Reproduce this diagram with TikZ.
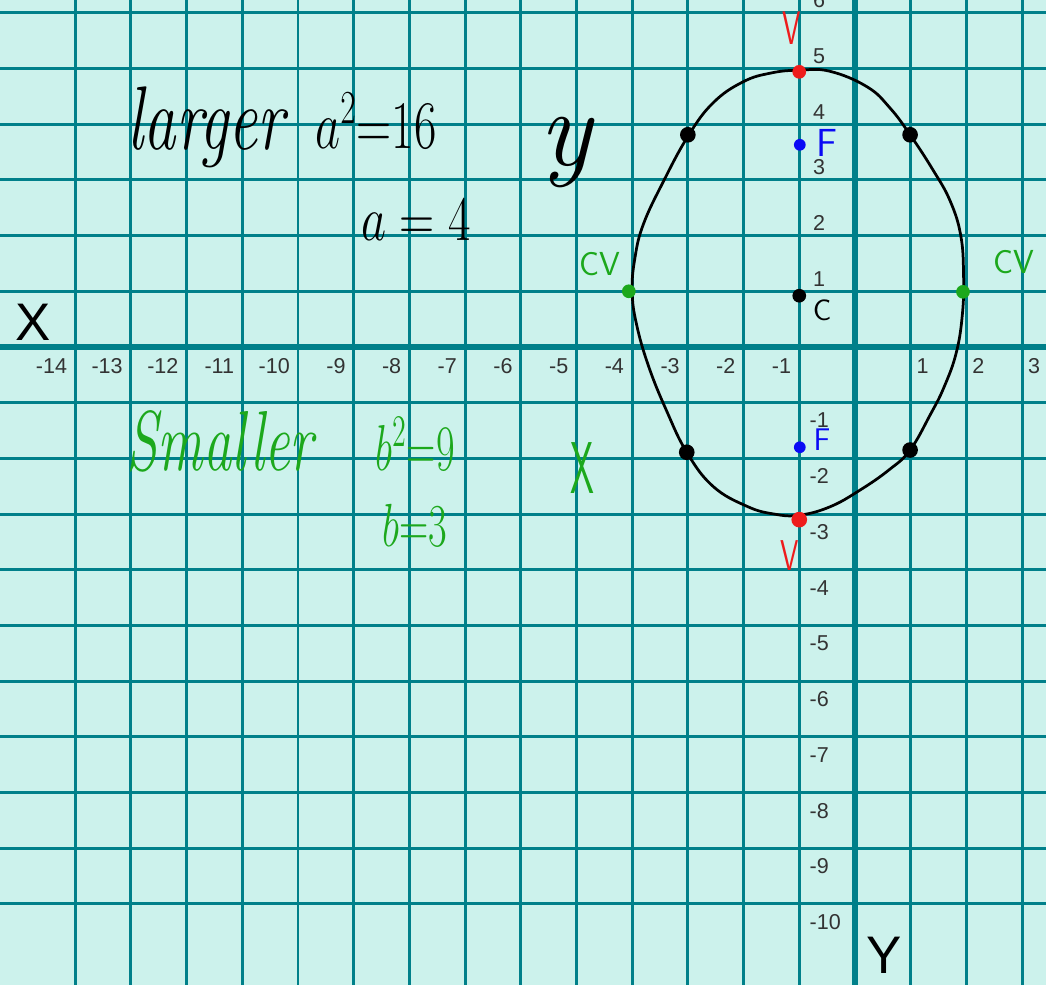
\documentclass[tikz,border=0pt]{standalone}
\usepackage{fontspec}
\usepackage{graphicx}
\newfontfamily\labelfont{Liberation Sans}
\definecolor{paper}{RGB}{204,242,236}
\definecolor{gridteal}{RGB}{0,128,138}
\definecolor{penred}{RGB}{238,28,28}
\definecolor{pengreen}{RGB}{28,168,28}
\definecolor{penblue}{RGB}{10,10,245}
\tikzset{
  gridline/.style={gridteal, line width=1.5pt},
  axisline/.style={gridteal, line width=3pt},
  ticklabel/.style={font=\labelfont\fontsize{11}{11}\selectfont, text=black!80, inner sep=0pt},
  axislabel/.style={font=\labelfont\fontsize{27}{27}\selectfont, inner sep=0pt},
  hand/.style={font=\itshape\fontsize{30}{30}\selectfont, inner sep=0pt, anchor=base},
  pen/.style={font=\sffamily\fontsize{20}{20}\selectfont, inner sep=0pt},
  blob/.style={circle, fill, inner sep=0pt, minimum size=#1},
}
\begin{document}
\begin{tikzpicture}
  % Paper
  \useasboundingbox (-15.35,-11.45) rectangle (3.43,6.23);
  \fill[paper] (-15.35,-11.45) rectangle (3.43,6.23);
  \clip (-15.35,-11.45) rectangle (3.43,6.23);

  % Grid
  \foreach \x in {-14,...,3}
    \draw[gridline] (\x,-11.45) -- (\x,6.23);
  \foreach \y in {-10,...,6}
    \draw[gridline] (-15.35,\y) -- (3.43,\y);

  % Axes
  \draw[axisline] (-15.35,0) -- (3.43,0);
  \draw[axisline] (0,-11.45) -- (0,6.23);
  \node[axislabel] (xname) at (-14.76,0.45) {X};
  \node[axislabel] (yname) at (0.52,-10.93) {Y};

  % Tick labels
  \foreach \x in {-14,...,-1}
    \node[ticklabel, anchor=north east] (xl\x) at (\x-0.14,-0.2) {\x};
  \foreach \x in {1,2,3}
    \node[ticklabel, anchor=north west] (xl\x) at (\x+0.1,-0.2) {\x};
  \foreach \y in {1,...,6}
    \node[ticklabel, anchor=south west] (yl\y) at (-0.76,\y+0.08) {\y};
  \foreach \y in {-10,...,-1}
    \node[ticklabel, anchor=north west] (yl\y) at (-0.82,\y-0.18) {\y};

  % Hand-drawn ellipse
  \draw[black, line width=1.4pt] plot[smooth cycle, tension=0.7] coordinates {
    (-1,4.97) (-0.45,4.95) (0.22,4.67) (0.63,4.29) (0.99,3.81) (1.40,3.18)
    (1.71,2.62) (1.90,2.0) (1.95,1.3) (1.93,0.6) (1.82,-0.1) (1.60,-0.72)
    (1.35,-1.22) (0.99,-1.85) (0.62,-2.2) (0.09,-2.57) (-0.45,-2.87)
    (-1,-3.02) (-1.45,-3.0) (-1.94,-2.86) (-2.55,-2.5) (-3.02,-1.89)
    (-3.38,-1.15) (-3.7,-0.36) (-3.92,0.4) (-4.0,1.0) (-3.95,1.6)
    (-3.8,2.2) (-3.45,2.95) (-3.0,3.78) (-2.55,4.38) (-2.01,4.76) (-1.5,4.92)};

  % Points
  \node[blob=8pt, fill=black] (p1) at (-3,3.81) {};
  \node[blob=8pt, fill=black] (p2) at (0.99,3.81) {};
  \node[blob=8pt, fill=black] (p3) at (-3.02,-1.89) {};
  \node[blob=8pt, fill=black] (p4) at (0.99,-1.85) {};
  \node[blob=7pt, fill=black] (ctr) at (-1,0.92) {};
  \node[blob=7pt, fill=penred] (vtop) at (-1,4.94) {};
  \node[blob=8pt, fill=penred] (vbot) at (-1,-3.1) {};
  \node[blob=7pt, fill=pengreen] (cvl) at (-4.06,1.0) {};
  \node[blob=7pt, fill=pengreen] (cvr) at (1.94,0.99) {};
  \node[blob=6pt, fill=penblue] (ftop) at (-0.99,3.63) {};
  \node[blob=6pt, fill=penblue] (fbot) at (-0.99,-1.8) {};

  % Point labels
  \node[pen, penred] (vtoplab) at (-1.13,5.73) {\scalebox{0.75}[1.2]{V}};
  \node[pen, penred] (vbotlab) at (-1.17,-3.75) {\scalebox{0.75}[1.1]{V}};
  \node[pen, penblue] (ftoplab) at (-0.5,3.66) {F};
  \node[pen, penblue, font=\sffamily\fontsize{16}{16}\selectfont] (fbotlab) at (-0.59,-1.67) {F};
  \node[pen, black, font=\sffamily\fontsize{15}{15}\selectfont] (ctrlab) at (-0.59,0.65) {C};
  \node[pen, pengreen, font=\sffamily\fontsize{17}{17}\selectfont] (cvllab) at (-4.58,1.49) {CV};
  \node[pen, pengreen, font=\sffamily\fontsize{17}{17}\selectfont] (cvrlab) at (2.86,1.52) {CV};

  % Notes
  \node[hand, font=\itshape\fontsize{33}{33}\selectfont] (larger) at (-11.65,3.54) {\scalebox{1}[1.4]{larger}};
  \node[hand, font=\fontsize{24}{24}\selectfont] (asq) at (-8.6,3.56) {\scalebox{1}[1.4]{$a^2{=}16$}};
  \node[hand, font=\itshape\fontsize{56}{56}\selectfont] (yvar) at (-5.2,3.25) {y};
  \node[hand, font=\fontsize{24}{24}\selectfont] (aval) at (-7.88,1.92) {\scalebox{1}[1.3]{$a=4$}};
  \node[hand, pengreen, font=\itshape\fontsize{29}{29}\selectfont] (smaller) at (-11.4,-2.21) {\scalebox{1}[1.5]{Smaller}};
  \node[hand, pengreen, font=\fontsize{22}{22}\selectfont] (bsq) at (-7.9,-2.21) {\scalebox{1}[1.6]{$b^2{=}9$}};
  \node[hand, pengreen, font=\fontsize{22}{22}\selectfont] (bval) at (-7.9,-3.59) {\scalebox{1}[1.5]{$b{=}3$}};
  \node[pen, pengreen, font=\sffamily\fontsize{30}{30}\selectfont] (xvar) at (-4.9,-2.17) {\scalebox{0.65}[1.25]{X}};
\end{tikzpicture}
\end{document}
